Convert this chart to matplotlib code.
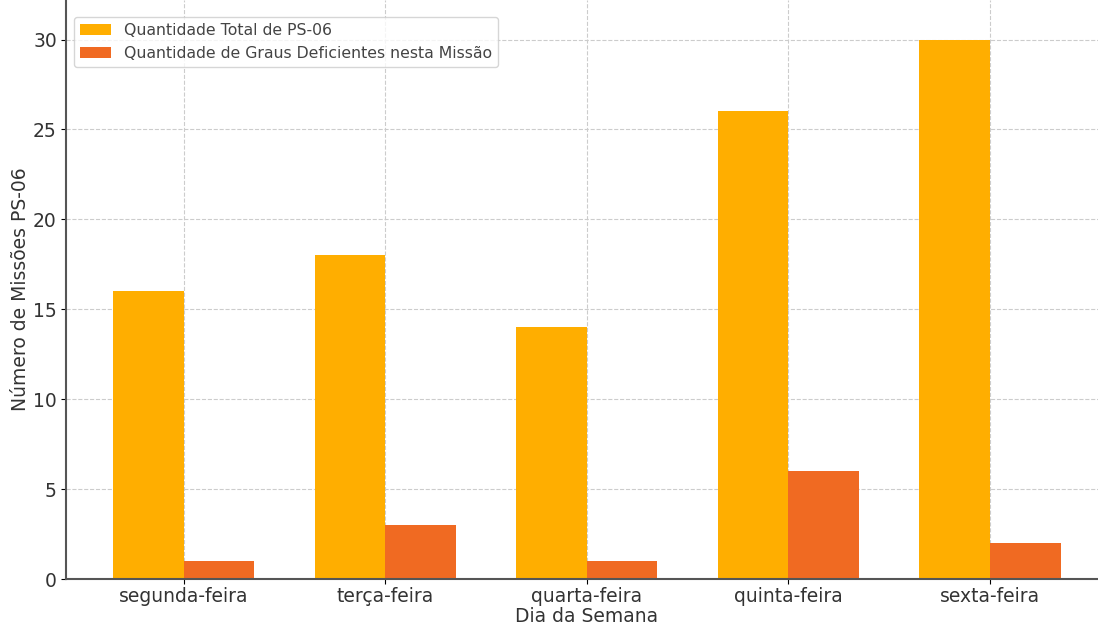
import numpy as np
import matplotlib.pyplot as plt

dias = ['segunda-feira', 'terça-feira', 'quarta-feira', 'quinta-feira', 'sexta-feira']
total_ps06 = [16, 18, 14, 26, 30]
graus_deficientes = [1, 3, 1, 6, 2]

x = np.arange(len(dias))
largura = 0.35

fig = plt.figure(figsize=(10.98, 6.26), dpi=100)
ax = fig.add_axes([0.060, 0.075, 0.949, 0.925])

ax.bar(x - largura / 2, total_ps06, largura, color='#FFAE00',
       label='Quantidade Total de PS-06')
ax.bar(x + largura / 2, graus_deficientes, largura, color='#F06A22',
       label='Quantidade de Graus Deficientes nesta Missão')

ax.set_xticks(x)
ax.set_xticklabels(dias, fontsize=13.5, color='#333333')
ax.tick_params(axis='x', pad=2)
ax.tick_params(axis='y', labelsize=13.5, labelcolor='#333333', pad=3)
ax.set_xlabel('Dia da Semana', fontsize=13.5, color='#333333', labelpad=1)
ax.set_ylabel('Número de Missões PS-06', fontsize=13.5, color='#333333', labelpad=2)
ax.set_ylim(0, 32.2)
ax.set_xlim(-0.585, 4.585)

ax.grid(True, linestyle='--', color='#cccccc', linewidth=0.8)
ax.set_axisbelow(True)
for s in ['top', 'right']:
    ax.spines[s].set_visible(False)
for s in ['left', 'bottom']:
    ax.spines[s].set_color('#555555')
    ax.spines[s].set_linewidth(1.5)

ax.legend(loc='upper left', bbox_to_anchor=(0.0, 0.985), fontsize=11.3,
          labelcolor='#444444')

fig.savefig('out.png', dpi=100)
